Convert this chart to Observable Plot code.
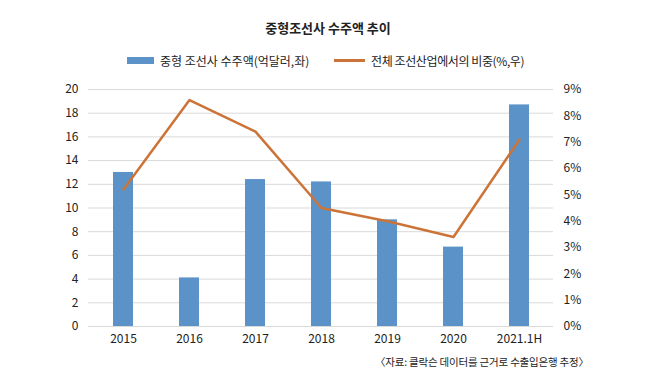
<!DOCTYPE html>
<html><head><meta charset="utf-8">
<script src="https://cdn.jsdelivr.net/npm/d3@7"></script>
<script src="https://cdn.jsdelivr.net/npm/@observablehq/plot@0.6"></script>
<style>
body{margin:0;background:#fff;}
#wrap{position:relative;width:650px;height:385px;font-family:"Noto Sans CJK KR","Noto Sans",sans-serif;color:#222;}
.abs{position:absolute;white-space:nowrap;}
</style>
</head><body>
<div id="wrap">
  <div class="abs" style="left:0;width:656px;top:18px;text-align:center;font-size:13px;font-weight:bold;">중형조선사 수주액 추이</div>
  <div class="abs" style="left:127px;top:57px;width:27px;height:7px;background:#5b93c8;"></div>
  <div class="abs" style="left:160px;top:52px;font-size:12px;">중형 조선사 수주액(억달러,좌)</div>
  <div class="abs" style="left:334px;top:59px;width:31px;height:3px;background:#cc7438;"></div>
  <div class="abs" style="left:371px;top:52px;font-size:12px;letter-spacing:-0.4px;">전체 조선산업에서의 비중(%,우)</div>
  <div class="abs" style="left:375px;top:354px;font-size:10.5px;letter-spacing:-0.2px;">〈자료: 클락슨 데이터를 근거로 수출입은행 추정〉</div>
  <div id="chart" style="position:absolute;left:0;top:0;"></div>
</div>
<script>
const years = ["2015","2016","2017","2018","2019","2020","2021.1H"];
const orders = [13.0, 4.1, 12.4, 12.2, 9.0, 6.7, 18.7];
const share = [5.2, 8.6, 7.4, 4.5, 4.0, 3.4, 7.1];
const leftTicks = [0,2,4,6,8,10,12,14,16,18,20];
const rightTicks = [0,1,2,3,4,5,6,7,8,9];

const ratio = 20/9;
const data = years.map((y,i)=>({year:y, orders:orders[i], share:share[i], shareScaled:share[i]*ratio}));

const chart = Plot.plot({
  width:650, height:385,
  marginTop:89, marginBottom:59, marginLeft:88, marginRight:97,
  style:{fontFamily:'"Noto Sans CJK KR","Noto Sans",sans-serif', fontSize:"12px", color:"#222", background:"transparent"},
  x:{domain:years, paddingInner:0.7, paddingOuter:0.35, label:null},
  y:{domain:[0,20], label:null},
  marks:[
    Plot.gridY(leftTicks, {stroke:"#d9d9d9", strokeOpacity:1, strokeWidth:1}),
    Plot.barY(data, {x:"year", y:"orders", fill:"#5b93c8"}),
    Plot.ruleY([0], {stroke:"#d9d9d9", strokeWidth:1}),
    Plot.lineY(data, {x:"year", y:"shareScaled", stroke:"#cc7438", strokeWidth:2.5}),
    Plot.axisY(leftTicks, {anchor:"left", tickSize:0, tickPadding:10, fontSize:12, label:null}),
    Plot.axisY(rightTicks.map(v=>v*ratio), {anchor:"right", tickSize:0, tickPadding:10, fontSize:12, label:null, textAnchor:"start", tickFormat:v=>Math.round(v/ratio)+"%"}),
    Plot.axisX({tickSize:0, tickPadding:8, fontSize:12, label:null})
  ]
});
document.getElementById("chart").appendChild(chart);
</script>
</body></html>
